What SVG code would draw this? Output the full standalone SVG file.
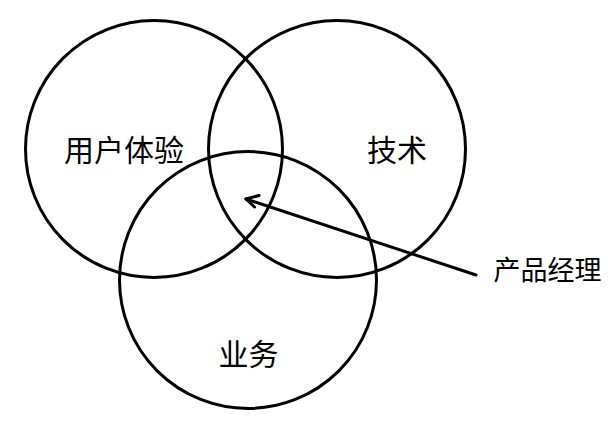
<svg xmlns="http://www.w3.org/2000/svg" width="614" height="425" viewBox="0 0 614 425">
  <style>
    .c { fill: none; stroke: #000; stroke-width: 3; }
    .t { font-family: "Noto Sans CJK SC", "Noto Sans", sans-serif; fill: #000; text-anchor: middle; }
    .conn { fill: none; stroke: #000; stroke-width: 3; stroke-linecap: round; stroke-linejoin: round; }
  </style>
  <rect width="614" height="425" fill="#fff"/>
  <g id="ux">
    <circle class="c" cx="154" cy="149" r="128.5"/>
    <text class="t" x="124" y="161" font-size="30">用户体验</text>
  </g>
  <g id="tech">
    <circle class="c" cx="337" cy="149" r="128.5"/>
    <text class="t" x="397" y="161" font-size="30">技术</text>
  </g>
  <g id="biz">
    <circle class="c" cx="248" cy="280" r="128.5"/>
    <text class="t" x="248.5" y="365" font-size="30">业务</text>
  </g>
  <g id="pm">
    <text class="t" x="547.5" y="280" font-size="27">产品经理</text>
  </g>
  <g id="connectors">
    <line class="conn" x1="476" y1="275" x2="246" y2="199"/>
    <polyline class="conn" points="259,195.5 246,199 254.5,207"/>
  </g>
</svg>
